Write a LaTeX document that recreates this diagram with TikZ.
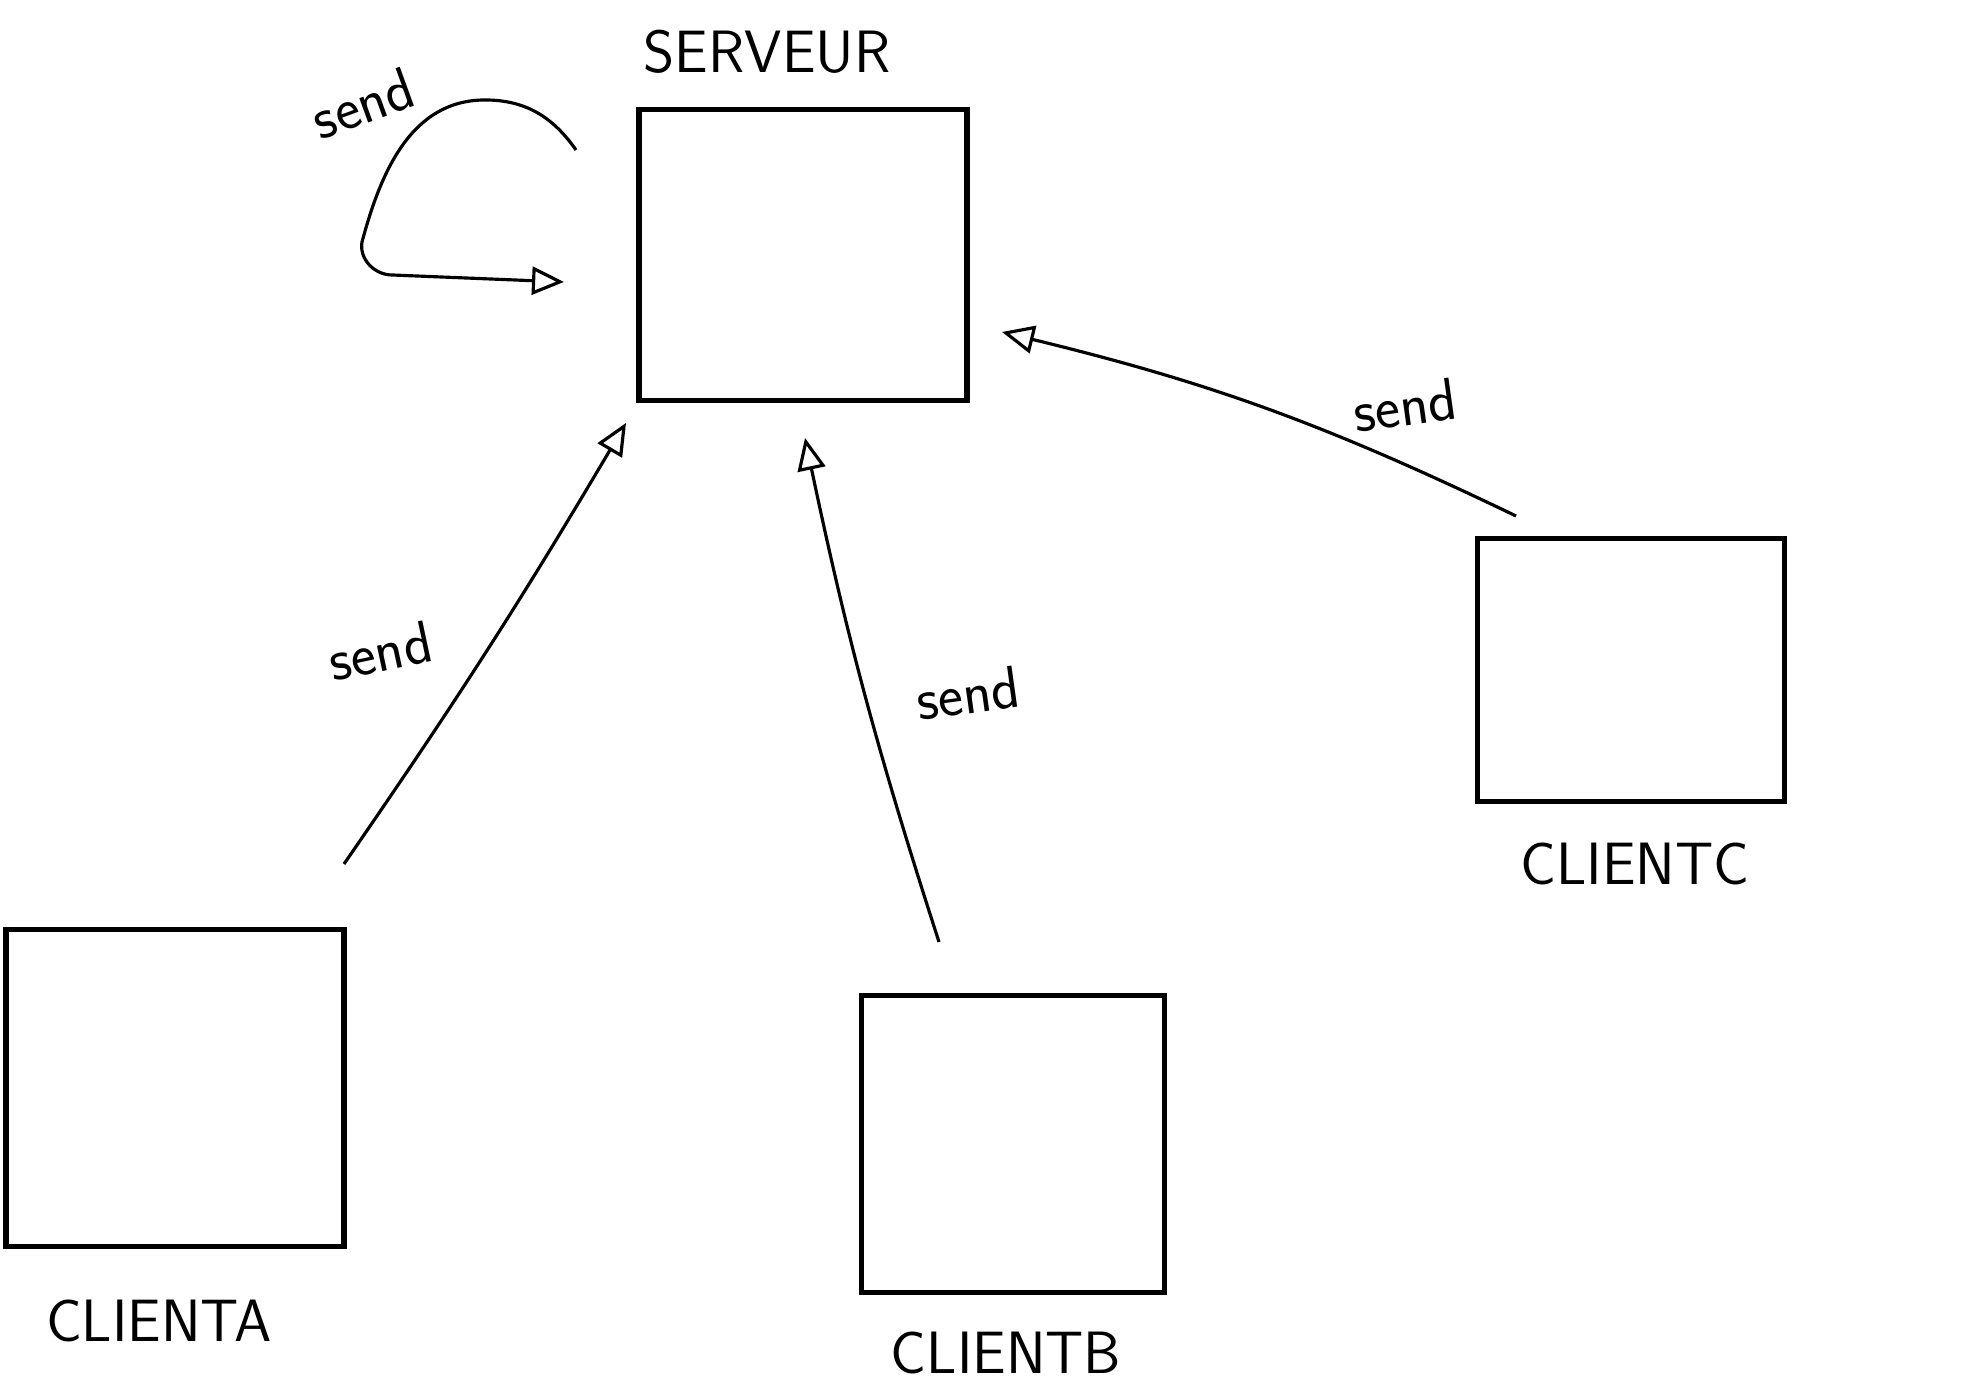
\documentclass[tikz,border=0pt]{standalone}
\usepackage{tikz}
\usetikzlibrary{arrows.meta,positioning}

\tikzset{
  machine/.style={draw, line width=1.6pt, rectangle},
  name label/.style={font=\sffamily\fontsize{17}{20}\selectfont},
  send label/.style={font=\sffamily\fontsize{17}{20}\selectfont},
  send arrow/.style={line width=0.9pt, -{Triangle[open, length=3.2mm, width=2.8mm, line width=0.9pt]}},
}

\begin{document}
\begin{tikzpicture}

\useasboundingbox (0,0) rectangle (19.64,13.92);

% machines
\node[machine, minimum width=3.28cm, minimum height=2.91cm] (serveur) at (8.03,11.37) {};
\node[machine, minimum width=3.38cm, minimum height=3.17cm] (clienta) at (1.75,3.04) {};
\node[machine, minimum width=3.03cm, minimum height=2.97cm] (clientb) at (10.13,2.48) {};
\node[machine, minimum width=3.07cm, minimum height=2.63cm] (clientc) at (16.31,7.22) {};

% names
\node[name label] (serveurname) at (7.67,13.40) {SERVEUR};
\node[name label] (clientaname) at (1.59,0.71) {CLIENTA};
\node[name label] (clientbname) at (10.06,0.39) {CLIENTB};
\node[name label] (clientcname) at (16.35,5.28) {CLIENTC};

% free ends of the arrows
\coordinate (a start) at (3.44,5.28);
\coordinate (a end) at (6.26,9.69);
\coordinate (b start) at (9.39,4.50);
\coordinate (b end) at (8.05,9.54);
\coordinate (c start) at (15.16,8.76);
\coordinate (c end) at (10.02,10.60);
\coordinate (loop start) at (5.76,12.42);
\coordinate (loop top) at (4.85,12.92);
\coordinate (loop side) at (3.62,11.50);
\coordinate (loop corner) at (3.92,11.17);
\coordinate (loop end) at (5.64,11.10);

\draw[send arrow] (a start) to[bend right=2] (a end);
\draw[send arrow] (b start) to[bend left=3] (b end);
\draw[send arrow] (c start) to[bend right=6] (c end);
\draw[send arrow] (loop start) to[out=125, in=0] (loop top)
  to[out=180, in=75] (loop side) to[out=-100, in=180] (loop corner) -- (loop end);

% send labels
\node[send label, rotate=12] (senda) at (3.80,7.41) {send};
\node[send label, rotate=8] (sendb) at (9.68,6.99) {send};
\node[send label, rotate=8] (sendc) at (14.05,9.87) {send};
\node[send label, rotate=20] (sendloop) at (3.63,12.89) {send};

\end{tikzpicture}
\end{document}
